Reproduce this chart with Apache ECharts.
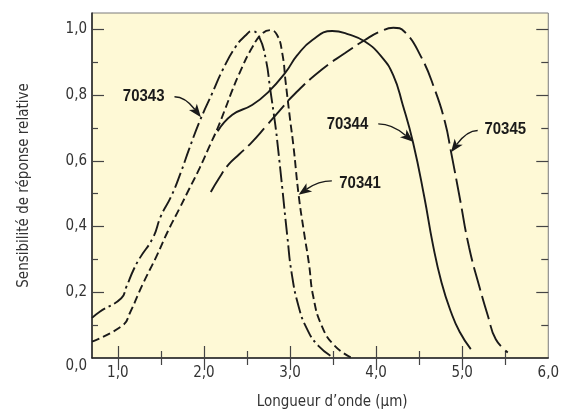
<!DOCTYPE html>
<html>
<head>
<meta charset="utf-8">
<script src="https://cdn.jsdelivr.net/npm/echarts@6/dist/echarts.min.js"></script>
<style>
html,body{margin:0;padding:0;background:#fff;}
#c{width:562px;height:415px;}
</style>
</head>
<body>
<div id="c"></div>
<script>
// ---- data ----
const xTickLabels = [1, 2, 3, 4, 5, 6];
const yTickLabels = [0, 0.2, 0.4, 0.6, 0.8, 1.0];
const xMajor = [1, 2, 3, 4, 5];
const xMinor = [1.5, 2.5, 3.5, 4.5, 5.5];
const yMajor = [0.2, 0.4, 0.6, 0.8, 1.0];
const yMinor = [0.1, 0.3, 0.5, 0.7, 0.9];

const x70343 = [0.7, 0.79, 1.04, 1.10, 1.18, 1.25, 1.41, 1.50, 1.62, 1.735, 1.83, 1.95, 2.10, 2.22, 2.37, 2.49, 2.56, 2.64, 2.72, 2.77, 2.83, 2.86, 2.91, 2.97, 3.02, 3.10, 3.20, 3.33, 3.51];
const y70343 = [0.122, 0.141, 0.182, 0.217, 0.267, 0.302, 0.367, 0.432, 0.492, 0.567, 0.637, 0.72, 0.808, 0.878, 0.948, 0.983, 0.995, 0.978, 0.908, 0.818, 0.708, 0.64, 0.518, 0.367, 0.257, 0.157, 0.087, 0.037, 0.0];

const x70341 = [0.7, 1.06, 1.14, 1.29, 1.45, 1.58, 1.72, 1.83, 1.95, 2.06, 2.16, 2.25, 2.33, 2.41, 2.56, 2.68, 2.77, 2.85, 2.91, 2.95, 3.00, 3.04, 3.10, 3.16, 3.22, 3.27, 3.37, 3.52, 3.72];
const y70341 = [0.05, 0.10, 0.137, 0.225, 0.31, 0.385, 0.457, 0.515, 0.578, 0.642, 0.70, 0.76, 0.815, 0.865, 0.945, 0.988, 0.998, 0.983, 0.928, 0.838, 0.728, 0.645, 0.497, 0.387, 0.287, 0.187, 0.097, 0.037, 0.0];

const x70344 = [2.16, 2.33, 2.56, 2.75, 2.95, 3.08, 3.26, 3.49, 3.68, 3.87, 4.06, 4.20, 4.31, 4.43, 4.56, 4.66, 4.76, 4.87, 4.97, 5.10];
const y70344 = [0.69, 0.74, 0.77, 0.81, 0.87, 0.92, 0.968, 0.995, 0.985, 0.963, 0.918, 0.86, 0.77, 0.655, 0.49, 0.345, 0.23, 0.14, 0.08, 0.027];

const x70345 = [2.08, 2.17, 2.29, 2.41, 2.55, 2.72, 2.87, 3.06, 3.37, 3.64, 3.87, 4.06, 4.20, 4.33, 4.52, 4.68, 4.80, 4.87, 4.97, 5.08, 5.20, 5.30, 5.39, 5.53];
const y70345 = [0.505, 0.545, 0.59, 0.62, 0.655, 0.705, 0.75, 0.805, 0.878, 0.928, 0.968, 0.995, 1.005, 0.993, 0.918, 0.818, 0.718, 0.628, 0.49, 0.337, 0.217, 0.127, 0.057, 0.017];

// annotation labels: name, text position, arrow start, arrow tip (data coords)
const annNames = ['70343', '70344', '70345', '70341'];
const annText  = [[1.30, 0.797], [3.667, 0.7125], [5.50, 0.6955], [3.814, 0.532]];
const annFrom  = [[1.658, 0.795], [4.025, 0.7125], [5.18, 0.6925], [3.486, 0.539]];
const annTo    = [[1.965, 0.733], [4.43, 0.658], [4.87, 0.626], [3.10, 0.497]];

// ---- chart ----
const FONT = "'DejaVu Sans Condensed', 'Liberation Sans', sans-serif";
const INK = '#1a1a1a';
const zip = (xs, ys) => xs.map((x, i) => [x, ys[i]]);
const fmt = v => v.toFixed(1).replace('.', ',');

const chart = echarts.init(document.getElementById('c'), null, {renderer: 'canvas'});

function xAx(pos, values, len, opts) {
  return Object.assign({
    type: 'value', min: 0.7, max: 6.0, position: pos, gridIndex: 0,
    axisLine: {show: false},
    axisTick: {show: true, inside: true, length: len, customValues: values, lineStyle: {color: '#444', width: 1.2}},
    axisLabel: {show: false},
    splitLine: {show: false}
  }, opts || {});
}
function yAx(pos, values, len, opts) {
  return Object.assign({
    type: 'value', min: 0, max: 1.05, position: pos, gridIndex: 0,
    axisLine: {show: false},
    axisTick: {show: true, inside: true, length: len, customValues: values, lineStyle: {color: '#444', width: 1.2}},
    axisLabel: {show: false},
    splitLine: {show: false}
  }, opts || {});
}

function lineSeries(name, data, dash) {
  return {
    type: 'line', name: name, data: data, xAxisIndex: 0, yAxisIndex: 0,
    showSymbol: false, smooth: 0.5,
    lineStyle: {color: INK, width: 1.9, type: dash},
    z: 5
  };
}

const labelStyle = {color: '#333', fontFamily: FONT, fontSize: 15};

const option = {
  backgroundColor: '#ffffff',
  animation: false,
  grid: {left: 92, right: 10, top: 13, bottom: 53, show: true,
         backgroundColor: '#fef9d6', borderColor: '#7a7a7a', borderWidth: 1},
  xAxis: [
    xAx('bottom', xMajor, 12, {
      axisLine: {show: true, onZero: false, lineStyle: {color: '#222', width: 1.5}},
      axisLabel: Object.assign({show: true, customValues: xTickLabels, formatter: fmt, margin: 8}, labelStyle),
      name: 'Longueur d\u2019onde (\u00b5m)', nameLocation: 'middle', nameGap: 37,
      nameTextStyle: Object.assign({padding: [0, 0, 0, 24]}, labelStyle)
    }),
    xAx('bottom', xMinor, 7),
    xAx('top', xMajor, 12),
    xAx('top', xMinor, 7)
  ],
  yAxis: [
    yAx('left', yMajor, 12, {
      axisLine: {show: true, onZero: false, lineStyle: {color: '#222', width: 1.5}},
      axisLabel: Object.assign({show: true, customValues: yTickLabels, margin: 5, lineHeight: 16,
                                formatter: v => (v === 0 ? '\n' + fmt(v) : fmt(v))}, labelStyle),
      name: 'Sensibilit\u00e9 de r\u00e9ponse relative', nameLocation: 'middle', nameGap: 60, nameRotate: 90,
      nameTextStyle: labelStyle
    }),
    yAx('left', yMinor, 6),
    yAx('right', yMajor, 12),
    yAx('right', yMinor, 7)
  ],
  series: [
    lineSeries('70343', zip(x70343, y70343), [16, 4, 2.5, 4]),
    lineSeries('70341', zip(x70341, y70341), [8, 4]),
    lineSeries('70344', zip(x70344, y70344), 'solid'),
    lineSeries('70345', zip(x70345, y70345), [24, 6])
  ]
};
chart.setOption(option);

// annotations placed through the chart's own scales
function px(p) { return chart.convertToPixel({xAxisIndex: 0, yAxisIndex: 0}, p); }
const elements = [];
annNames.forEach((name, i) => {
  const t = px(annText[i]);
  const a = px(annFrom[i]);
  const b = px(annTo[i]);
  const dx = b[0] - a[0];
  const c = [a[0] + dx * 0.4, a[1]];
  let ux = b[0] - c[0], uy = b[1] - c[1];
  const L = Math.hypot(ux, uy); ux /= L; uy /= L;
  const hl = 13, hw = 5;
  const base = [b[0] - ux * hl, b[1] - uy * hl];
  const notch = [b[0] - ux * hl * 0.75, b[1] - uy * hl * 0.75];
  const left = [base[0] - uy * hw, base[1] + ux * hw];
  const right = [base[0] + uy * hw, base[1] - ux * hw];
  elements.push({
    type: 'bezierCurve', z: 10, silent: true,
    shape: {x1: a[0], y1: a[1], x2: notch[0], y2: notch[1], cpx1: c[0], cpy1: c[1]},
    style: {stroke: INK, lineWidth: 1.4, fill: null}
  });
  elements.push({
    type: 'polygon', z: 10, silent: true,
    shape: {points: [b, left, notch, right]},
    style: {fill: INK, stroke: null}
  });
  elements.push({
    type: 'text', z: 10, silent: true, x: t[0], y: t[1], scaleX: 0.88,
    style: {text: name, fill: INK, font: "bold 17px 'Liberation Sans', sans-serif", align: 'center', verticalAlign: 'middle'}
  });
});
chart.setOption({graphic: {elements: elements}});
</script>
</body>
</html>
